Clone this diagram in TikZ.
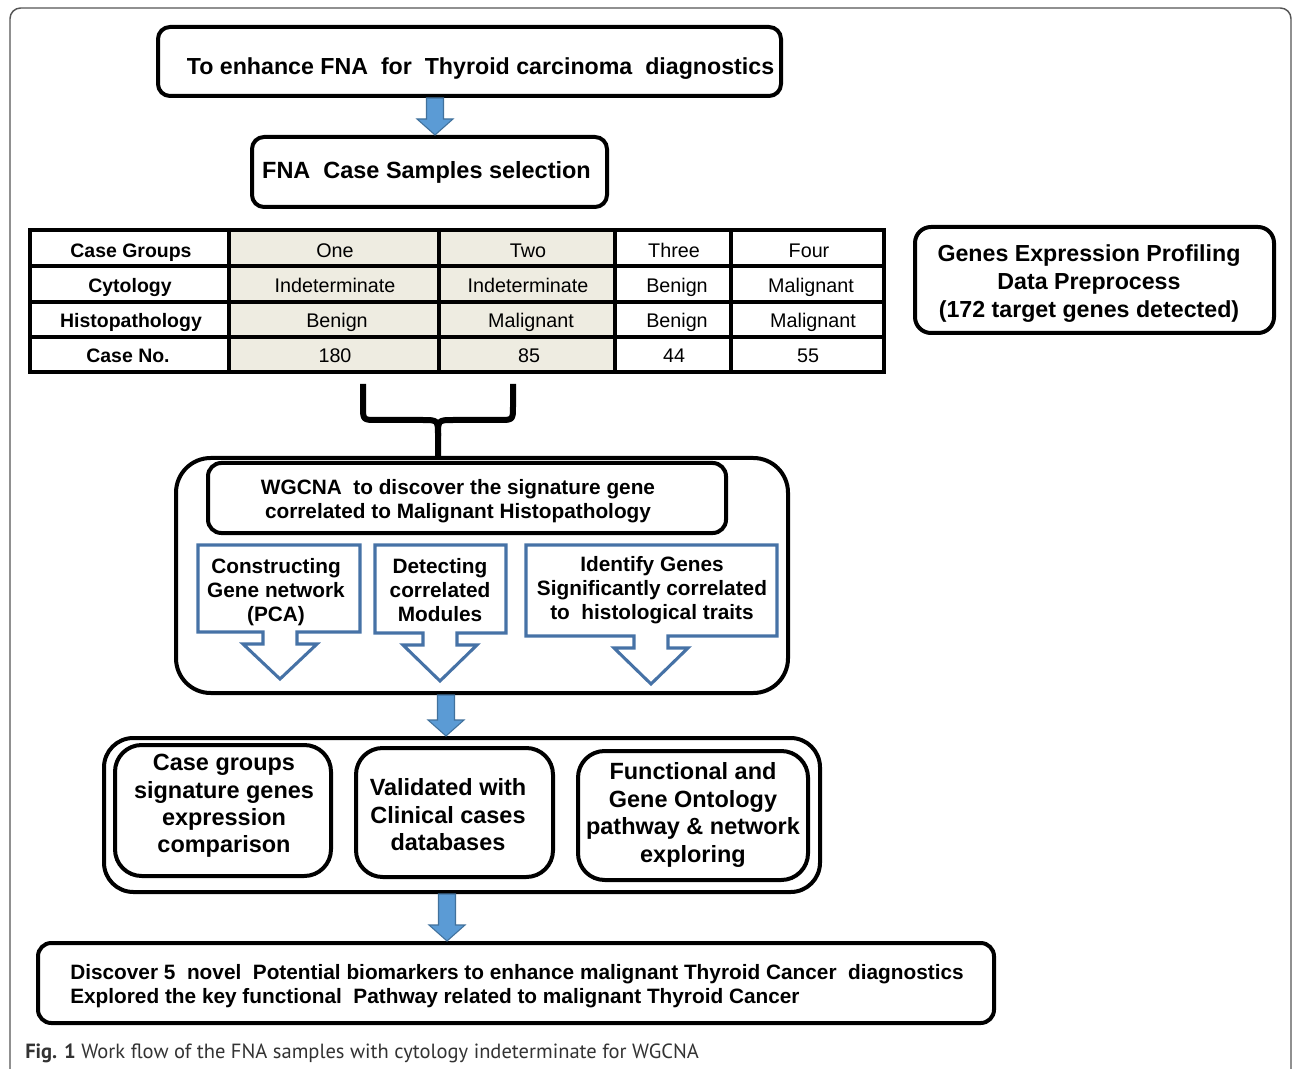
\documentclass[tikz,border=0pt]{standalone}
\usepackage{fontspec}
\setmainfont{Liberation Sans}
\newfontfamily\capfont{PT Sans}
\usetikzlibrary{calc,fit}
\definecolor{arrfill}{HTML}{5B9BD5}
\definecolor{arrline}{HTML}{41719C}
\definecolor{callc}{HTML}{4672A6}
\definecolor{tanfill}{HTML}{EEECE1}
\definecolor{capgray}{HTML}{333333}
\definecolor{framegray}{HTML}{555555}
\newcommand\fs[2]{\fontsize{#1pt}{#2pt}\selectfont}
\newcommand\bluearrow[3]{%
  \path[bluearr] ($(#1.south -| #3)+(-8.5,0)$) -- ($(#1.south -| #3)+(8.5,0)$)
   -- ($(#2.north -| #3)+(8.5,-16)$) -- ($(#2.north -| #3)+(18,-16)$)
   -- (#2.north -| #3) -- ($(#2.north -| #3)+(-18,-16)$)
   -- ($(#2.north -| #3)+(-8.5,-16)$) -- cycle;}
\begin{document}
\begin{tikzpicture}[x=0.75pt,y=-0.75pt,
  box/.style={draw=black, line width=3pt, rounded corners=9pt, inner sep=0pt},
  tx/.style={inner sep=0pt, align=center},
  bluearr/.style={fill=arrfill, draw=arrline, line width=0.8pt, line join=miter},
  callout/.style={draw=callc, line width=2.3pt, fill=white, line join=miter},
  hd/.style={inner sep=0pt, anchor=base, font=\fs{14.6}{17}\bfseries},
  cl/.style={inner sep=0pt, anchor=base, font=\fs{14.8}{17}},
  tline/.style={line width=2.8pt},
  bracepath/.style={line width=4.5pt, line join=round},
  ctext/.style={tx, font=\fs{15.6}{18}\bfseries},
  btext/.style={tx, font=\fs{17.6}{20.6}\bfseries}
]
\useasboundingbox (0,0) rectangle (1292,1069);
\fill[white] (0,0) rectangle (1292,1069);
\begin{scope}
\clip (0,0) rectangle (1292,1069);
\draw[framegray, line width=1.1pt, rounded corners=8pt] (10,8) rectangle (1291,1090);
\end{scope}

% title
\node[box, rounded corners=9pt, fit={(158,27) (781,96)}] (title) {};
\node[tx, anchor=base, font=\fs{17.4}{20}\bfseries] (titletext) at (480.5,75) {To enhance FNA\ \ for\ \ Thyroid carcinoma\ \ diagnostics};

% FNA selection
\node[box, fit={(252,137) (607,207)}] (fna) {};
\node[tx, anchor=base, font=\fs{17.6}{20}\bfseries] (fnatext) at (426.5,179) {FNA\ \ Case Samples selection};
\coordinate (ax1) at (435,0);
\bluearrow{title}{fna}{ax1}

% table
\fill[tanfill] (229,230) rectangle (615,372);
\foreach \yy in {266,302,337} \draw[tline] (30,\yy) -- (884,\yy);
\foreach \xx in {229,439,615,731} \draw[tline] (\xx,230) -- (\xx,372);
\draw[line width=3pt] (30,230) rectangle (884,372);
\node[hd] (h1) at (131,258) {Case Groups};
\node[hd] (h2) at (130,293) {Cytology};
\node[hd] (h3) at (131,328) {Histopathology};
\node[hd] (h4) at (128,363) {Case No.};
\node[cl] (c11) at (335,258) {One};
\node[cl] (c12) at (528,258) {Two};
\node[cl] (c13) at (674,258) {Three};
\node[cl] (c14) at (809,258) {Four};
\node[cl] (c21) at (335,293) {Indeterminate};
\node[cl] (c22) at (528,293) {Indeterminate};
\node[cl] (c23) at (677,293) {Benign};
\node[cl] (c24) at (811,293) {Malignant};
\node[cl] (c31) at (337,328) {Benign};
\node[cl] (c32) at (531,328) {Malignant};
\node[cl] (c33) at (677,328) {Benign};
\node[cl] (c34) at (813,328) {Malignant};
\node[cl] (c41) at (335,363) {180};
\node[cl] (c42) at (529,363) {85};
\node[cl] (c43) at (674,363) {44};
\node[cl] (c44) at (808,363) {55};

% right box
\node[box, rounded corners=12pt, fit={(915,227) (1274,333)}] (prof) {};
\node[tx, font=\fs{17.4}{21}\bfseries] (proftext) at (1089,284) {Genes Expression Profiling\\Data Preprocess\\(172 target genes detected)};

% WGCNA block
\node[box, rounded corners=26pt, fit={(176,458) (788,693)}] (wgcna) {};
\draw[bracepath] (363,384) -- (363,406) .. controls (363,420) .. (377,420) -- (422,420) .. controls (438,420) .. (438,436) -- (wgcna.north -| 438,0);
\draw[bracepath] (513,384) -- (513,406) .. controls (513,420) .. (499,420) -- (454,420) .. controls (438,420) .. (438,436);
\node[box, rounded corners=10pt, fit={(208,463) (726,533)}] (wgtitle) {};
\node[ctext] (wgtext) at (458,501) {WGCNA\ \ to discover the signature gene\\correlated to Malignant Histopathology};

\draw[callout] (198,545) -- (360,545) -- (360,632) -- (297,632) -- (297,644) -- (317,644) -- (280,679) -- (243,644) -- (263,644) -- (263,632) -- (198,632) -- cycle;
\node[ctext] (co1) at (276,592) {Constructing\\Gene network\\(PCA)};
\draw[callout] (375,545) -- (506,545) -- (506,633) -- (457,633) -- (457,645) -- (477,645) -- (440,681) -- (403,645) -- (423,645) -- (423,633) -- (375,633) -- cycle;
\node[ctext] (co2) at (440,590) {Detecting\\correlated\\Modules};
\draw[callout] (526,545) -- (777,545) -- (777,636) -- (668,636) -- (668,648) -- (688,648) -- (651,684) -- (614,648) -- (634,648) -- (634,636) -- (526,636) -- cycle;
\node[ctext] (co3) at (652,590) {Identify Genes\\Significantly correlated\\to\ \ histological traits};

% second block
\node[box, rounded corners=22pt, fit={(104,738) (820,892)}] (valid) {};
\coordinate (ax2) at (446,0);
\bluearrow{wgcna}{valid}{ax2}
\node[box, rounded corners=20pt, fit={(115,745) (331,876)}] (boxa) {};
\node[btext] (boxatext) at (224,806) {Case groups\\signature genes\\expression\\comparison};
\node[box, rounded corners=20pt, fit={(356,748) (553,877)}] (boxb) {};
\node[btext] (boxbtext) at (448,815) {Validated with\\Clinical cases\\databases};
\node[box, rounded corners=20pt, fit={(578,751) (808,880)}] (boxc) {};
\node[btext] (boxctext) at (693,815) {Functional and\\Gene Ontology\\pathway \& network\\exploring};

% final
\node[box, rounded corners=10pt, fit={(38,943) (994,1023)}] (final) {};
\coordinate (ax3) at (447,0);
\bluearrow{valid}{final}{ax3}
\node[tx, align=left, anchor=west, font=\fs{15.6}{18}\bfseries] (finaltext) at (70,986) {Discover 5\ \ novel\ \ Potential biomarkers to enhance malignant Thyroid Cancer\ \ diagnostics\\Explored the key functional\ \ Pathway related to malignant Thyroid Cancer};

% caption
\node[inner sep=0pt, anchor=base west, font=\capfont\fs{15.4}{17}, text=capgray] (caption) at (25,1058) {\textbf{Fig. 1} Work flow of the FNA samples with cytology indeterminate for WGCNA};
\end{tikzpicture}
\end{document}
